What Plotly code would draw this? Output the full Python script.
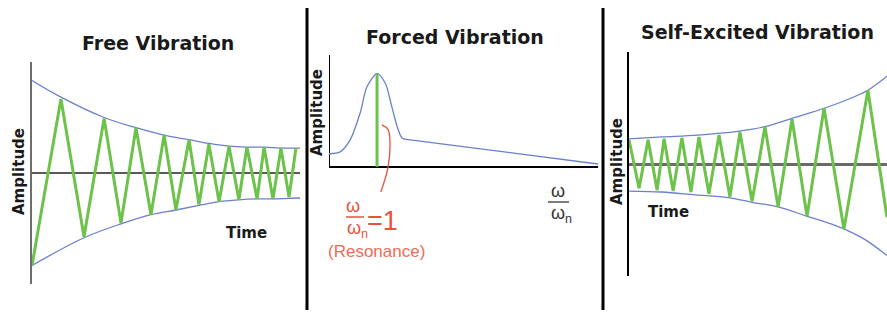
import plotly.graph_objects as go

W, H = 887, 313

# ---------- Panel 1: Free vibration ----------
free_t = [0, 1.08, 1.94, 2.69, 3.32, 3.88, 4.44, 4.93, 5.37, 5.86, 6.23, 6.60,
          6.98, 7.35, 7.72, 8.02, 8.40, 8.66, 8.99, 9.29, 9.59, 9.85]
free_a = [-1.0, 0.80, -0.69, 0.59, -0.54, 0.49, -0.45, 0.41, -0.40, 0.36, -0.34, 0.31,
          -0.31, 0.29, -0.29, 0.28, -0.28, 0.28, -0.28, 0.27, -0.26, 0.27]
free_up_t = [0, 1.08, 2.69, 3.88, 4.93, 5.86, 6.60, 7.35, 8.02, 8.66, 9.29, 10.0]
free_up = [1.0, 0.82, 0.60, 0.49, 0.41, 0.36, 0.32, 0.29, 0.28, 0.28, 0.27, 0.27]
free_lo_t = [0, 1.94, 3.32, 4.44, 5.37, 6.23, 6.98, 7.72, 8.40, 8.99, 10.0]
free_lo = [-1.0, -0.70, -0.55, -0.45, -0.40, -0.35, -0.31, -0.29, -0.28, -0.28, -0.27]

# ---------- Panel 2: Forced vibration ----------
forced_r = [0, 0.23, 0.44, 0.65, 0.79, 1.0, 1.17, 1.31, 1.42, 1.52, 1.69]
forced_a = [0.14, 0.16, 0.29, 0.58, 0.86, 1.0, 0.90, 0.64, 0.43, 0.31, 0.29]
tail_r = [1.69, 5.6]
tail_a = [0.29, 0.03]
res_r = [1.0, 1.0]
res_a = [0.0, 1.0]
hook_r = [1.1, 1.23, 1.27, 1.23, 1.08]
hook_a = [0.45, 0.40, 0.25, 0.0, -0.27]
axis2_r = [0, 0]
axis2_a = [0, 1.2]

# ---------- Panel 3: Self-excited vibration ----------
self_t = [0, 0.39, 0.74, 1.09, 1.36, 1.71, 2.05, 2.40, 2.71, 3.10, 3.49, 3.91,
          4.30, 4.77, 5.27, 5.78, 6.32, 6.90, 7.56, 8.33, 9.26, 10.0]
self_a = [0.26, -0.26, 0.26, -0.28, 0.27, -0.29, 0.28, -0.30, 0.29, -0.32, 0.31, -0.35,
          0.34, -0.40, 0.40, -0.46, 0.48, -0.56, 0.60, -0.70, 0.79, -0.57]
self_up_t = [0, 1.28, 2.67, 4.22, 5.27, 6.32, 7.60, 8.64, 9.26, 10.0]
self_up = [0.27, 0.29, 0.31, 0.35, 0.40, 0.49, 0.60, 0.71, 0.79, 0.94]
self_lo_t = [0, 1.28, 2.56, 3.84, 4.77, 5.78, 6.90, 7.71, 8.37, 9.15, 10.0]
self_lo = [-0.29, -0.30, -0.33, -0.36, -0.41, -0.46, -0.56, -0.63, -0.70, -0.81, -0.98]

GREEN = "#6cc24a"
BLUE = "#6a80cc"
RED = "#e8513b"

fig = go.Figure()

def env(x, y, xa, ya):
    fig.add_trace(go.Scatter(x=x, y=y, mode="lines", line=dict(color=BLUE, width=1.3, shape="spline"),
                             xaxis=xa, yaxis=ya, hoverinfo="skip"))

# Panel 1
env(free_up_t, free_up, "x", "y")
env(free_lo_t, free_lo, "x", "y")
fig.add_trace(go.Scatter(x=free_t, y=free_a, mode="lines", line=dict(color=GREEN, width=3),
                         xaxis="x", yaxis="y"))

# Panel 2
fig.add_trace(go.Scatter(x=axis2_r, y=axis2_a, mode="lines", line=dict(color="black", width=2),
                         xaxis="x2", yaxis="y2"))
fig.add_trace(go.Scatter(x=forced_r, y=forced_a, mode="lines",
                         line=dict(color=BLUE, width=1.3, shape="spline", smoothing=0.8),
                         xaxis="x2", yaxis="y2"))
fig.add_trace(go.Scatter(x=tail_r, y=tail_a, mode="lines", line=dict(color=BLUE, width=1.3),
                         xaxis="x2", yaxis="y2"))
fig.add_trace(go.Scatter(x=res_r, y=res_a, mode="lines", line=dict(color=GREEN, width=3),
                         xaxis="x2", yaxis="y2"))
fig.add_trace(go.Scatter(x=hook_r, y=hook_a, mode="lines",
                         line=dict(color=RED, width=1.3, shape="spline"),
                         xaxis="x2", yaxis="y2"))

# Panel 3
env(self_up_t, self_up, "x3", "y3")
env(self_lo_t, self_lo, "x3", "y3")
fig.add_trace(go.Scatter(x=self_t, y=self_a, mode="lines", line=dict(color=GREEN, width=3),
                         xaxis="x3", yaxis="y3"))

def px(x0, x1):
    return [x0 / W, x1 / W]

def py(top, bottom):
    return [1 - bottom / H, 1 - top / H]

hidden = dict(showgrid=False, showticklabels=False, ticks="", zeroline=False, showline=False,
              fixedrange=True)

fig.update_layout(
    width=W, height=H, margin=dict(l=0, r=0, t=0, b=0),
    paper_bgcolor="white", plot_bgcolor="rgba(0,0,0,0)", showlegend=False,
    xaxis=dict(hidden, domain=px(32, 300), range=[0, 10]),
    yaxis=dict(hidden, domain=py(62, 284), range=[-1.2, 1.2], anchor="x",
               showline=True, linecolor="#6e6e6e", linewidth=2,
               zeroline=True, zerolinecolor="#5a5a5a", zerolinewidth=2),
    xaxis2=dict(hidden, domain=px(329, 598), range=[0, 5.6], anchor="y2"),
    yaxis2=dict(hidden, domain=py(55, 260), range=[-1.0, 1.2], anchor="x2",
                zeroline=True, zerolinecolor="black", zerolinewidth=2),
    xaxis3=dict(hidden, domain=px(629, 887), range=[0, 10], anchor="y3"),
    yaxis3=dict(hidden, domain=py(52, 276), range=[-1.2, 1.2], anchor="x3",
                showline=True, linecolor="black", linewidth=1.5,
                zeroline=True, zerolinecolor="#6a6a6a", zerolinewidth=2.5),
)

def P(x, y):
    return x / W, 1 - y / H

ann = []
def text(t, x, y, size, color="#1a1a1a", family="DejaVu Sans", angle=0, xanchor="center",
         yanchor="middle"):
    X, Y = P(x, y)
    ann.append(dict(text=t, x=X, y=Y, xref="paper", yref="paper", showarrow=False,
                    font=dict(size=size, color=color, family=family), textangle=angle,
                    xanchor=xanchor, yanchor=yanchor, borderpad=0))

text("<b>Free Vibration</b>", 158, 43, 19)
text("<b>Forced Vibration</b>", 455, 37, 19)
text("<b>Self-Excited Vibration</b>", 757, 32, 19)
text("<b>Amplitude</b>", 19, 172, 15, angle=-90)
text("<b>Amplitude</b>", 317, 113, 15, angle=-90)
text("<b>Amplitude</b>", 617, 162, 15, angle=-90)
text("<b>Time</b>", 247, 233, 15)
text("<b>Time</b>", 668, 212, 15)

LS = "Liberation Sans"
text("ω", 353, 217, 18, color=RED, family=LS, yanchor="bottom")
text("ω<sub>n</sub>", 346, 217, 18, color=RED, family=LS, xanchor="left", yanchor="top")
text("=1", 366, 221, 27, color=RED, family=LS, xanchor="left")
text("(Resonance)", 376, 251, 17, color="#ef6b55", family=LS)

text("ω", 558, 202, 18, color="#333333", family=LS, yanchor="bottom")
text("ω<sub>n</sub>", 550, 202, 18, color="#333333", family=LS, xanchor="left", yanchor="top")

fig.update_layout(annotations=ann)

shapes = []
def seg(x0, y0, x1, y1, color, width):
    X0, Y0 = P(x0, y0)
    X1, Y1 = P(x1, y1)
    shapes.append(dict(type="line", xref="paper", yref="paper", x0=X0, y0=Y0, x1=X1, y1=Y1,
                       line=dict(color=color, width=width)))

seg(307, 8, 307, 310, "black", 3)
seg(603, 8, 603, 310, "black", 3)
seg(346, 217, 364, 217, RED, 1.5)
seg(548, 202, 569, 202, "#333333", 1.3)
fig.update_layout(shapes=shapes)

fig.write_html("out.html", post_script="document.body.style.margin='0';",
               config={"displayModeBar": False})
